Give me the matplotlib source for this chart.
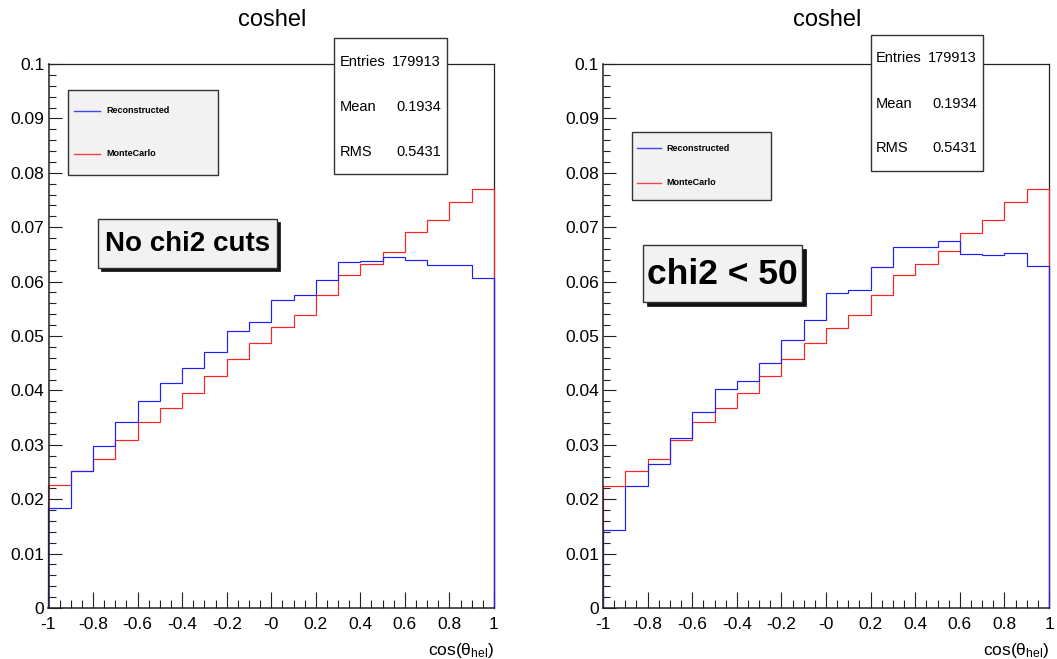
import numpy as np
import matplotlib
matplotlib.use("Agg")
import matplotlib.pyplot as plt
from matplotlib.patches import Rectangle
from matplotlib.lines import Line2D

plt.rcParams['font.family'] = ['Liberation Sans', 'DejaVu Sans']
plt.rcParams['mathtext.fontset'] = 'custom'
plt.rcParams['mathtext.rm'] = 'Liberation Sans'
plt.rcParams['mathtext.it'] = 'Liberation Sans'
plt.rcParams['mathtext.bf'] = 'Liberation Sans:bold'

# ---------------- data ----------------
bin_edges = np.round(np.linspace(-1.0, 1.0, 21), 2)

reco_nocut = [0.0184, 0.0252, 0.0297, 0.0342, 0.0380, 0.0414, 0.0441, 0.0470, 0.0509, 0.0526,
              0.0566, 0.0575, 0.0603, 0.0636, 0.0637, 0.0645, 0.0639, 0.0630, 0.0630, 0.0607]
mc_nocut = [0.0226, 0.0252, 0.0274, 0.0308, 0.0342, 0.0368, 0.0396, 0.0426, 0.0457, 0.0487,
            0.0516, 0.0539, 0.0575, 0.0613, 0.0632, 0.0655, 0.0691, 0.0713, 0.0746, 0.0771]

reco_chi2 = [0.0144, 0.0225, 0.0264, 0.0313, 0.0361, 0.0402, 0.0418, 0.0451, 0.0493, 0.0530,
             0.0579, 0.0584, 0.0626, 0.0663, 0.0663, 0.0674, 0.0651, 0.0648, 0.0652, 0.0629]
mc_chi2 = [0.0225, 0.0251, 0.0274, 0.0308, 0.0341, 0.0368, 0.0396, 0.0426, 0.0457, 0.0487,
           0.0515, 0.0539, 0.0575, 0.0613, 0.0632, 0.0656, 0.0690, 0.0713, 0.0746, 0.0771]

series_names = ["Reconstructed", "MonteCarlo"]
panel_titles = ["coshel", "coshel"]
panel_notes = ["No chi2 cuts", "chi2 < 50"]
stat_names = ["Entries", "Mean", "RMS"]
stat_values = ["179913", "0.1934", "0.5431"]
x_label = r"cos($\mathregular{\theta_{hel}}$)"

# ---------------- figure ----------------
W, H = 1057, 659
fig = plt.figure(figsize=(W / 100, H / 100), dpi=100)
fig.patch.set_facecolor('white')


def fx(x):
    return x / W


def fy(y):
    return 1 - y / H


panels = [
    dict(ax=[48.5, 64, 494, 608], reco=reco_nocut, mc=mc_nocut,
         stats=[334, 38, 447, 174], stat_rows=[61.7, 106.7, 151.7], stat_lx=340, stat_rx=441,
         leg=[68, 90, 218, 175], leg_rows=[110.7, 154], leg_lx=[74, 100], leg_tx=106,
         note=[98.3, 219.3, 277.3, 267.7], note_fs=20, shadow=3,
         title_x=272),
    dict(ax=[603, 64, 1049, 608], reco=reco_chi2, mc=mc_chi2,
         stats=[870.7, 35, 982.7, 171], stat_rows=[58.3, 104, 148.3], stat_lx=876, stat_rx=977,
         leg=[631.7, 131.7, 770.7, 200], leg_rows=[148.3, 182.7], leg_lx=[636.7, 660.7], leg_tx=666.7,
         note=[642.7, 245, 802.3, 301.7], note_fs=25.5, shadow=4,
         title_x=827),
]

frame_col = '#222222'
for i, p in enumerate(panels):
    x0, y0, x1, y1 = p['ax']
    ax = fig.add_axes([fx(x0), fy(y1), (x1 - x0) / W, (y1 - y0) / H])
    ax.stairs(p['mc'], bin_edges, baseline=0, color='#ff2020', lw=0.85, zorder=2.6, clip_on=False)
    ax.stairs(p['reco'], bin_edges, baseline=0, color='#2020ff', lw=0.85, zorder=2.7, clip_on=False)
    ax.set_xlim(-1, 1)
    ax.set_ylim(0, 0.1)
    ax.set_xticks(np.round(np.arange(-1, 1.001, 0.2), 2))
    ax.set_xticks(np.round(np.arange(-1, 1.001, 0.05), 3), minor=True)
    ax.set_yticks(np.round(np.arange(0, 0.1001, 0.01), 3))
    ax.set_yticks(np.round(np.arange(0, 0.1001, 0.002), 4), minor=True)
    ax.set_xticklabels(['%g' % v for v in np.round(np.arange(-1, 1.001, 0.2), 2)])
    ax.set_yticklabels(['%g' % v for v in np.round(np.arange(0, 0.1001, 0.01), 3)])
    ax.tick_params(axis='x', which='major', direction='in', length=11.5, width=0.8,
                   colors=frame_col, labelcolor='black', labelsize=12.5, pad=6.5)
    ax.tick_params(axis='x', which='minor', direction='in', length=5.8, width=0.8, colors=frame_col)
    ax.tick_params(axis='y', which='major', direction='in', length=9.4, width=0.8,
                   colors=frame_col, labelcolor='black', labelsize=12.5, pad=3)
    ax.tick_params(axis='y', which='minor', direction='in', length=4.8, width=0.8, colors=frame_col)
    ax.tick_params(top=False, right=False, which='both')
    for name, s in ax.spines.items():
        s.set_color(frame_col)
        s.set_linewidth(1.1 if name in ('left', 'bottom') else 0.9)
        s.set_zorder(4 if name in ('left', 'bottom') else 1)

    # x label right aligned
    fig.text(fx(x1), fy(650), x_label, ha='right', va='center', fontsize=12.5)

    # title
    fig.text(fx(p['title_x']), fy(20), panel_titles[i], ha='center', va='center', fontsize=17)

    # stats box
    sx0, sy0, sx1, sy1 = p['stats']
    fig.add_artist(Rectangle((fx(sx0), fy(sy1)), (sx1 - sx0) / W, (sy1 - sy0) / H,
                             transform=fig.transFigure, facecolor='white',
                             edgecolor='#333333', lw=1.0, zorder=5))
    for name, val, ry in zip(stat_names, stat_values, p['stat_rows']):
        fig.text(fx(p['stat_lx']), fy(ry), name, ha='left', va='center', fontsize=10.5, zorder=6)
        fig.text(fx(p['stat_rx']), fy(ry), val, ha='right', va='center', fontsize=10.5, zorder=6)

    # legend box
    lx0, ly0, lx1, ly1 = p['leg']
    fig.add_artist(Rectangle((fx(lx0), fy(ly1)), (lx1 - lx0) / W, (ly1 - ly0) / H,
                             transform=fig.transFigure, facecolor='#f2f2f2',
                             edgecolor='#333333', lw=1.0, zorder=5))
    for name, col, ry in zip(series_names, ['#4040ff', '#ff4040'], p['leg_rows']):
        fig.add_artist(Line2D([fx(p['leg_lx'][0]), fx(p['leg_lx'][1])], [fy(ry), fy(ry)],
                              transform=fig.transFigure, color=col, lw=1.0, zorder=6))
        fig.text(fx(p['leg_tx']), fy(ry), name, ha='left', va='center', fontsize=6.5,
                 fontweight='bold', zorder=6)

    # note box with shadow
    nx0, ny0, nx1, ny1 = p['note']
    sh = p['shadow']
    fig.add_artist(Rectangle((fx(nx0 + sh), fy(ny1 + sh)), (nx1 - nx0) / W, (ny1 - ny0) / H,
                             transform=fig.transFigure, facecolor='#111111',
                             edgecolor='#111111', lw=0.5, zorder=5))
    fig.add_artist(Rectangle((fx(nx0), fy(ny1)), (nx1 - nx0) / W, (ny1 - ny0) / H,
                             transform=fig.transFigure, facecolor='#f2f2f2',
                             edgecolor='#333333', lw=1.0, zorder=6))
    fig.text(fx((nx0 + nx1) / 2), fy((ny0 + ny1) / 2 + 1), panel_notes[i], ha='center', va='center',
             fontsize=p['note_fs'], fontweight='bold', zorder=7)

fig.savefig('out.png', dpi=100)
